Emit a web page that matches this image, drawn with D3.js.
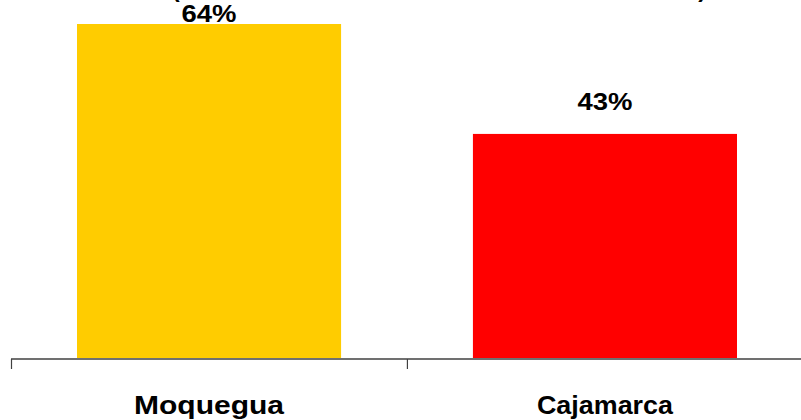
<!DOCTYPE html>
<html>
<head>
<meta charset="utf-8">
<script src="https://cdn.jsdelivr.net/npm/d3@7"></script>
<style>
  html, body { margin: 0; padding: 0; background: #fff; }
  svg { display: block; }
  text { font-family: "Liberation Sans", Arial, sans-serif; font-weight: bold; fill: #000; }
</style>
</head>
<body>
<script>
const categories = ["Moquegua", "Cajamarca"];
const values = [64, 43];
const valueLabels = ["64%", "43%"];
const barColors = ["#FFCC00", "#FF0000"];
const title = "(Tasa de anemia en niños menores de 36 meses)";

const W = 801, H = 420;
const svg = d3.select("body").append("svg").attr("width", W).attr("height", H);

const x = d3.scaleBand().domain(categories).range([11, 803]).paddingInner(0.333).paddingOuter(0.1667);
const y = d3.scaleLinear().domain([0, 64]).range([359, 24]);

// title (cut off at top, as in the reference)
svg.append("text")
  .attr("x", 439).attr("y", -3)
  .attr("text-anchor", "middle")
  .attr("font-size", 22)
  .attr("textLength", 534).attr("lengthAdjust", "spacingAndGlyphs")
  .text(title);

// bars
svg.selectAll("rect.bar").data(categories).enter().append("rect")
  .attr("class", "bar")
  .attr("x", d => x(d))
  .attr("width", x.bandwidth())
  .attr("y", (d, i) => y(values[i]))
  .attr("height", (d, i) => y(0) - y(values[i]))
  .attr("fill", (d, i) => barColors[i]);

// value labels
svg.selectAll("text.val").data(categories).enter().append("text")
  .attr("class", "val")
  .attr("x", d => x(d) + x.bandwidth() / 2)
  .attr("y", (d, i) => Math.max(y(values[i]) - 24, 21.5))
  .attr("text-anchor", "middle")
  .attr("font-size", 24)
  .attr("textLength", 55).attr("lengthAdjust", "spacingAndGlyphs")
  .text((d, i) => valueLabels[i]);

// axis
const axisG = svg.append("g").attr("transform", "translate(0,359)");
const step = x.step();
const tickPositions = [11, 11 + step, 11 + 2 * step];
axisG.append("line").attr("x1", 11).attr("x2", W).attr("y1", 0).attr("y2", 0)
  .attr("stroke", "#707070").attr("stroke-width", 2);
axisG.selectAll("line.tick").data(tickPositions).enter().append("line")
  .attr("class", "tick")
  .attr("x1", d => d + 0.5).attr("x2", d => d + 0.5)
  .attr("y1", 0).attr("y2", 10)
  .attr("stroke", "#404040").attr("stroke-width", 1.2);

const catWidths = [150, 136];
axisG.selectAll("text.cat").data(categories).enter().append("text")
  .attr("class", "cat")
  .attr("x", d => x(d) + x.bandwidth() / 2)
  .attr("y", 54.5)
  .attr("text-anchor", "middle")
  .attr("font-size", 25)
  .attr("textLength", (d, i) => catWidths[i]).attr("lengthAdjust", "spacingAndGlyphs")
  .text(d => d);
</script>
</body>
</html>
